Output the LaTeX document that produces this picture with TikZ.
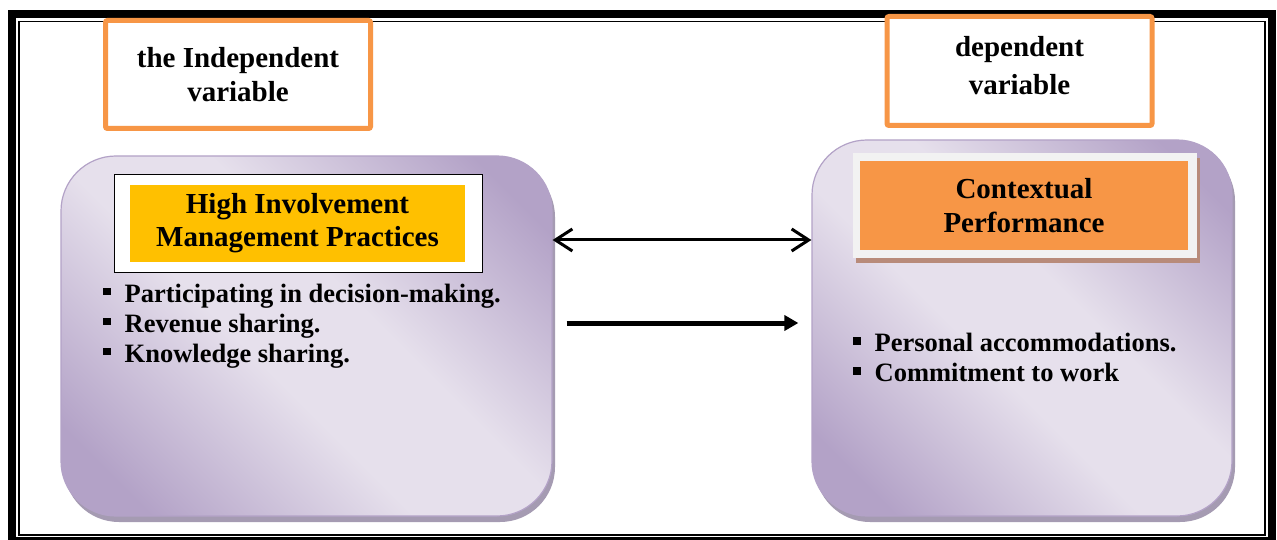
\documentclass[tikz,border=0pt]{standalone}
\usepackage{fontspec}
\setmainfont{Liberation Serif}
\usetikzlibrary{arrows.meta,shadows}
\definecolor{orng}{HTML}{F79646}
\definecolor{yel}{HTML}{FFC000}
\definecolor{pdark}{HTML}{B3A2C7}
\definecolor{plight}{HTML}{E6E0EC}
\definecolor{pshadow}{HTML}{A59BB2}
\definecolor{bshadow}{HTML}{B88B7A}
\definecolor{framegray}{HTML}{F2F2F2}
\pgfdeclareverticalshading{purpshade}{100bp}{color(0bp)=(pdark); color(22bp)=(pdark); color(44bp)=(plight); color(57bp)=(plight); color(79bp)=(pdark); color(100bp)=(pdark)}
\newcommand\bul{\rule[7pt]{7.5pt}{7.5pt}\hspace{14pt}}
\begin{document}
\begin{tikzpicture}[x=1pt,y=-1pt,
  labelbox/.style={draw=orng, line width=5pt, fill=white, rounded corners=2pt, minimum width=265pt, inner sep=0pt},
  bigbox/.style={draw=pdark, line width=1.2pt, rounded corners=55pt, shading=purpshade, shading angle=-45, inner sep=0pt,
     drop shadow={shadow xshift=3pt, shadow yshift=-6pt, fill=pshadow, opacity=1}},
  headtext/.style={align=center, inner sep=0pt, font=\bfseries\fontsize{29}{#1}\selectfont},
  bullets/.style={align=left, inner sep=0pt, anchor=west, font=\bfseries\fontsize{26.5}{30}\selectfont},
  dblarrow/.style={line width=3pt, {Straight Barb[length=17pt,width=22pt]}-{Straight Barb[length=17pt,width=22pt]}},
  fillarrow/.style={line width=5pt, -{Triangle[length=14pt,width=15pt]}}
]
\useasboundingbox (0,0) rectangle (1277,540);
\fill[white] (0,0) rectangle (1277,540);
% frame
\draw[line width=8pt] (12,14) rectangle (1272,541);
\draw[line width=1.5pt] (19,21.5) rectangle (1265,535);
% big boxes
\node[bigbox, minimum width=491pt, minimum height=360pt] (lb) at (306.5,336) {};
\node[bigbox, minimum width=420pt, minimum height=376pt] (rb) at (1022,328) {};
% label boxes
\node[labelbox, minimum height=108pt] (lab1) at (238,74.5) {};
\node[headtext=34] (lab1t) at (238,75) {the Independent\\variable};
\node[labelbox, minimum height=109pt] (lab2) at (1019.5,71) {};
\node[headtext=38] (lab2t) at (1019.5,66) {dependent\\variable};
% left title
\node[draw=black, line width=1pt, fill=white, minimum width=368pt, minimum height=97pt, inner sep=0pt] (hw) at (298,223.5) {};
\node[fill=yel, minimum width=335pt, minimum height=77pt, headtext=33] (hy) at (297.5,223.5) {High Involvement\\Management Practices};
% right title
\node[fill=framegray, minimum width=344pt, minimum height=105pt, inner sep=0pt,
      drop shadow={shadow xshift=3pt, shadow yshift=-5pt, fill=bshadow, opacity=1}] (cw) at (1025,205.5) {};
\node[fill=orng, minimum width=328pt, minimum height=89pt, headtext=34] (co) at (1024,205.5) {Contextual\\Performance};
% bullets
\node[bullets] (b1) at (103,326) {\bul Participating in decision-making.\\\bul Revenue sharing.\\\bul Knowledge sharing.};
\node[bullets] (b2) at (853,357.5) {\bul Personal accommodations.\\\bul Commitment to work};
% arrows
\draw[dblarrow] ([yshift=96pt]lb.east) -- ([yshift=88pt]rb.west);
\draw[fillarrow] ([xshift=14pt,yshift=13pt]lb.east) -- ([xshift=-13pt,yshift=5pt]rb.west);
\end{tikzpicture}
\end{document}
